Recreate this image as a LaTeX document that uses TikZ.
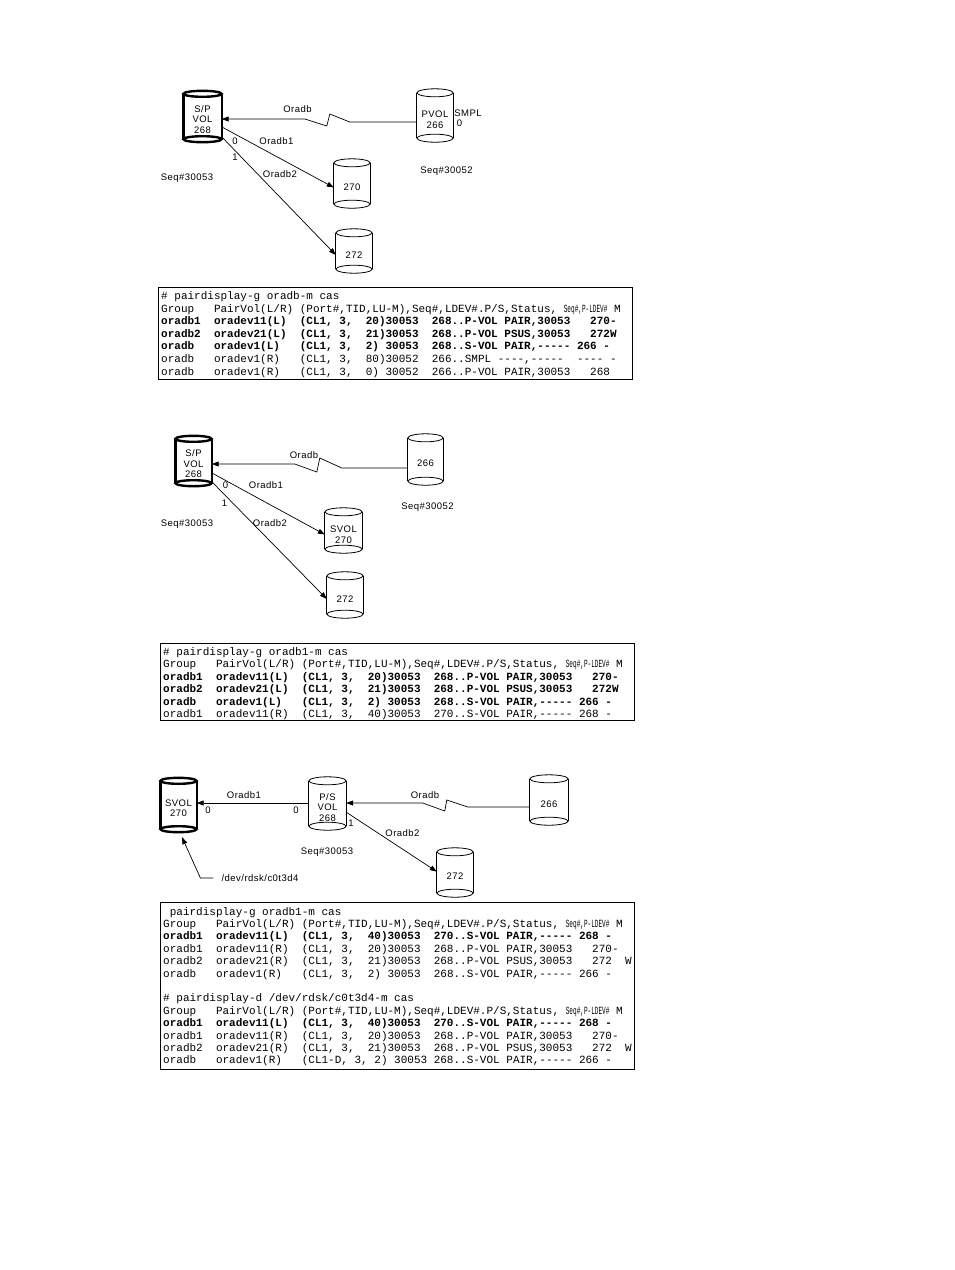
\documentclass[tikz,border=0pt]{standalone}
\usepackage{fontspec}
\usepackage{graphicx}
\setmainfont{Liberation Sans}
\setmonofont{Liberation Mono}
\newfontfamily\lblfont[LetterSpace=5]{Liberation Sans}
\usetikzlibrary{arrows.meta,calc}

% #1 line style, #2 cap radius, #3 name, #4 centre, #5 width, #6 height, #7 text
\newcommand{\drumshape}[7]{%
  \node[drumbox, minimum width=#5, minimum height=#6-2*#2] (#3) at (#4) {#7};
  \draw[#1] ($(#3.north west)+(0,-#2)$) -- ($(#3.south west)+(0,-#2)$)
    ($(#3.north east)+(0,-#2)$) -- ($(#3.south east)+(0,-#2)$);
  \draw[#1] ($(#3.north)+(0,-#2)$) ellipse [x radius={#5*0.5pt}, y radius={#2*1pt}];
  \draw[#1] ($(#3.south)+(0,-#2)$) ellipse [x radius={#5*0.5pt}, y radius={#2*1pt}];
}
\newcommand{\drum}[5]{\drumshape{drumline}{4}{#1}{#2}{#3}{#4}{#5}}
\newcommand{\bolddrum}[5]{\drumshape{thickdrum}{3}{#1}{#2}{#3}{#4}{#5}}
\newcommand{\hdr}{Group~~~PairVol(L/R)~(Port\#,TID,LU-M),Seq\#,LDEV\#.P/S,Status,~\scalebox{0.55}[1]{Seq\#,P-LDEV\#}~M}

\begin{document}
\begin{tikzpicture}[x=1pt, y=-1pt,
  drumbox/.style={rectangle, inner sep=0pt, align=center, font=\lblfont\fontsize{9.5}{10.5}\selectfont},
  drumline/.style={line width=0.8pt},
  thickdrum/.style={line width=2.4pt},
  lbl/.style={inner sep=1pt, font=\lblfont\fontsize{9.5}{11}\selectfont},
  link/.style={line width=0.7pt, -{Triangle[length=7pt,width=5pt]}},
  tbox/.style={line width=0.8pt},
  tline/.style={anchor=base west, inner sep=0pt, font=\ttfamily\fontsize{11}{12}\selectfont},
  tbold/.style={tline, font=\ttfamily\bfseries\fontsize{11}{12}\selectfont}]
\useasboundingbox (0,0) rectangle (954,1270);

% first cascade
\bolddrum{sp1}{202.5,119.5}{38}{51}{S/P\\VOL\\268}
\drum{pvol}{435,119.5}{36}{53}{PVOL\\266}
\drum{v270a}{352,187.5}{36}{49}{270}
\drum{v272a}{354,255}{36}{44}{272}
\node[lbl] (smpl) at (468,113) {SMPL};
\node[lbl] (smplz) at (459.5,123) {0};
\node[lbl] (seqa) at (187,178) {Seq\#30053};
\node[lbl] (seqb) at (446.5,171) {Seq\#30052};
\node[lbl] (oradba) at (297.5,109) {Oradb};
\node[lbl] (oraonea) at (276.5,141) {Oradb1};
\node[lbl] (oratwoa) at (280,174) {Oradb2};
\node[lbl] (mua) at (235,141) {0};
\node[lbl] (mub) at (235,157) {1};
\draw[link] ($(pvol.west)+(0,2.5)$) -- ++(-67,0) -- ++(-20,-8) -- ++(-3,12) -- ++(-22,-7) -- ($(sp1.east)+(0,-0.5)$);
\draw[link] (sp1.-21) -- (v270a.west);
\draw[link] (sp1.-42) -- (v272a.west);

\draw[tbox] (158,287) rectangle (632,379);
\node[tline] (t1r0) at (161,299.5) {\#~pairdisplay-g~oradb-m~cas};
\node[tline] (t1r1) at (161,312.1) {\hdr};
\node[tbold] (t1r2) at (161,324.7) {oradb1~~oradev11(L)~~(CL1,~3,~~20)30053~~268..P-VOL~PAIR,30053~~~270-};
\node[tbold] (t1r3) at (161,337.3) {oradb2~~oradev21(L)~~(CL1,~3,~~21)30053~~268..P-VOL~PSUS,30053~~~272W};
\node[tbold] (t1r4) at (161,349.9) {oradb~~~oradev1(L)~~~(CL1,~3,~~2)~30053~~268..S-VOL~PAIR,-----~266~-};
\node[tline] (t1r5) at (161,362.5) {oradb~~~oradev1(R)~~~(CL1,~3,~~80)30052~~266..SMPL~----,-----~~----~-};
\node[tline] (t1r6) at (161,375.1) {oradb~~~oradev1(R)~~~(CL1,~3,~~0)~30052~~266..P-VOL~PAIR,30053~~~268};

% second cascade
\bolddrum{sp2}{193.5,464}{36}{50}{S/P\\VOL\\268}
\drum{v266b}{425.5,463.5}{35}{51}{266}
\drum{v270b}{343.5,534.5}{37}{45}{SVOL\\270}
\drum{v272b}{345,599}{36}{46}{272}
\node[lbl] (oradbb) at (304,455) {Oradb};
\node[lbl] (mubz) at (225.5,485) {0};
\node[lbl] (oraoneb) at (266,485) {Oradb1};
\node[lbl] (mubo) at (224.5,503) {1};
\node[lbl] (oratwob) at (270,523) {Oradb2};
\node[lbl] (seqc) at (187,524) {Seq\#30053};
\node[lbl] (seqd) at (427.5,507) {Seq\#30052};
\draw[link] ($(v266b.west)+(0,4.5)$) -- ++(-66,0) -- ++(-22,-10) -- ++(-3,14) -- ++(-22,-8) -- (sp2.east);
\draw[link] (sp2.-26) -- (v270b.west);
\draw[link] (sp2.-44) -- (v272b.west);

\draw[tbox] (160,643) rectangle (634,720);
\node[tline] (t2r0) at (163,655.5) {\#~pairdisplay-g~oradb1-m~cas};
\node[tline] (t2r1) at (163,667.9) {\hdr};
\node[tbold] (t2r2) at (163,680.3) {oradb1~~oradev11(L)~~(CL1,~3,~~20)30053~~268..P-VOL~PAIR,30053~~~270-};
\node[tbold] (t2r3) at (163,692.7) {oradb2~~oradev21(L)~~(CL1,~3,~~21)30053~~268..P-VOL~PSUS,30053~~~272W};
\node[tbold] (t2r4) at (163,705.1) {oradb~~~oradev1(L)~~~(CL1,~3,~~2)~30053~~268..S-VOL~PAIR,-----~266~-};
\node[tline] (t2r5) at (163,717.5) {oradb1~~oradev11(R)~~(CL1,~3,~~40)30053~~270..S-VOL~PAIR,-----~268~-};

% third cascade
\bolddrum{svol3}{178.5,808}{36}{54}{SVOL\\270}
\drum{ps3}{327.5,807.5}{37}{53}{P/S\\VOL\\268}
\drum{v266c}{549,804}{38}{50}{266}
\drum{v272c}{455,876.5}{36}{49}{272}
\node[lbl] (oraonec) at (244,795) {Oradb1};
\node[lbl] (mucl) at (208,810) {0};
\node[lbl] (mucr) at (296,810) {0};
\node[lbl] (oradbc) at (425,795) {Oradb};
\node[lbl] (muco) at (351,823) {1};
\node[lbl] (oratwoc) at (402.5,833) {Oradb2};
\node[lbl] (seqe) at (327,852) {Seq\#30053};
\node[lbl] (dev) at (260,878) {/dev/rdsk/c0t3d4};
\draw[link] ([yshift=4.5pt]ps3.west) -- ([yshift=5pt]svol3.east);
\draw[link] ([yshift=-3pt]v266c.west) -- ++(-62,0) -- ++(-21,-7) -- ++(-2,11) -- ++(-22,-8) -- ([yshift=4.5pt]ps3.east);
\draw[link] (ps3.-14) -- (v272c.165);
\draw[link, shorten <=7pt] (dev.west) -- ++(-20,0) -- ([xshift=3.5pt,yshift=-5pt]svol3.south);

\draw[tbox] (160,902) rectangle (634,1069);
\node[tline] (t3r0) at (163,915) {~pairdisplay-g~oradb1-m~cas};
\node[tline] (t3r1) at (163,927.4) {\hdr};
\node[tbold] (t3r2) at (163,939.8) {oradb1~~oradev11(L)~~(CL1,~3,~~40)30053~~270..S-VOL~PAIR,-----~268~-};
\node[tline] (t3r3) at (163,952.2) {oradb1~~oradev11(R)~~(CL1,~3,~~20)30053~~268..P-VOL~PAIR,30053~~~270-};
\node[tline] (t3r4) at (163,964.6) {oradb2~~oradev21(R)~~(CL1,~3,~~21)30053~~268..P-VOL~PSUS,30053~~~272~~W};
\node[tline] (t3r5) at (163,977) {oradb~~~oradev1(R)~~~(CL1,~3,~~2)~30053~~268..S-VOL~PAIR,-----~266~-};
\node[tline] (t3r7) at (163,1001.8) {\#~pairdisplay-d~/dev/rdsk/c0t3d4-m~cas};
\node[tline] (t3r8) at (163,1014.2) {\hdr};
\node[tbold] (t3r9) at (163,1026.6) {oradb1~~oradev11(L)~~(CL1,~3,~~40)30053~~270..S-VOL~PAIR,-----~268~-};
\node[tline] (t3r10) at (163,1039) {oradb1~~oradev11(R)~~(CL1,~3,~~20)30053~~268..P-VOL~PAIR,30053~~~270-};
\node[tline] (t3r11) at (163,1051.4) {oradb2~~oradev21(R)~~(CL1,~3,~~21)30053~~268..P-VOL~PSUS,30053~~~272~~W};
\node[tline] (t3r12) at (163,1063.8) {oradb~~~oradev1(R)~~~(CL1-D,~3,~2)~30053~268..S-VOL~PAIR,-----~266~-};
\end{tikzpicture}
\end{document}
